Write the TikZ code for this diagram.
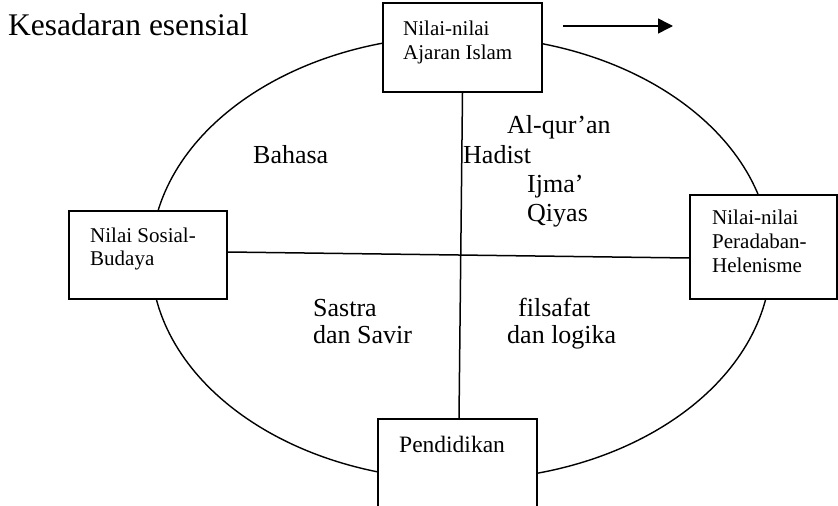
\documentclass[tikz,border=0pt]{standalone}
\usepackage{fontspec}
\setmainfont{Liberation Serif}
\usetikzlibrary{arrows.meta}
\tikzset{
  boxnode/.style={draw, line width=1.5pt, fill=white, rectangle, inner sep=0pt},
  boxtxt/.style={anchor=base west, inner sep=0pt, font=\fontsize{21}{24}\selectfont},
  midtxt/.style={anchor=base west, inner sep=0pt, font=\fontsize{26}{30}\selectfont},
  conn/.style={line width=1.5pt}
}
\begin{document}
\begin{tikzpicture}[x=1pt,y=-1pt]
\useasboundingbox (0,0) rectangle (838,506);
% ellipse
\draw[line width=1.4pt] (461,258) ellipse [x radius=310pt, y radius=222pt];
% boxes
\node[boxnode, minimum width=159pt, minimum height=89pt] (top) at (462.5,47.5) {};
\node[boxnode, minimum width=158pt, minimum height=88pt] (left) at (148,255) {};
\node[boxnode, minimum width=147pt, minimum height=104pt] (right) at (763.5,247) {};
\node[boxnode, minimum width=159pt, minimum height=111pt] (pend) at (457.5,474.5) {};
% connectors
\draw[conn] (top.south) -- ([xshift=1.5pt]pend.north);
\draw[conn] ([yshift=3pt]left.east) -- ([yshift=-11pt]right.west);
% arrow
\coordinate (a1) at (563,26);
\coordinate (a2) at (673,26);
\draw[conn, -{Triangle[length=15pt,width=15pt]}] (a1) -- (a2);
% title
\node[anchor=base west, inner sep=0pt, font=\fontsize{31.5}{36}\selectfont] (title) at (8,35) {Kesadaran esensial};
% box texts
\node[boxtxt] (t1) at (403,35) {Nilai-nilai};
\node[boxtxt] (t2) at (403,59) {Ajaran Islam};
\node[boxtxt] (l1) at (90,242) {Nilai Sosial-};
\node[boxtxt] (l2) at (90,265) {Budaya};
\node[boxtxt] (r1) at (712,224) {Nilai-nilai};
\node[boxtxt] (r2) at (712,248) {Peradaban-};
\node[boxtxt] (r3) at (712,272) {Helenisme};
\node[anchor=base west, inner sep=0pt, font=\fontsize{23.5}{27}\selectfont] (p1) at (399,452) {Pendidikan};
% inner texts
\node[midtxt] (m1) at (507,133) {Al-qur’an};
\node[midtxt] (m2) at (463,163) {Hadist};
\node[midtxt] (m3) at (527,192) {Ijma’};
\node[midtxt] (m4) at (527,221) {Qiyas};
\node[midtxt] (m5) at (253,163) {Bahasa};
\node[midtxt] (m6) at (313,316) {Sastra};
\node[midtxt] (m7) at (313,343) {dan Savir};
\node[midtxt] (m8) at (518,316) {filsafat};
\node[midtxt] (m9) at (507,343) {dan logika};
\end{tikzpicture}
\end{document}
